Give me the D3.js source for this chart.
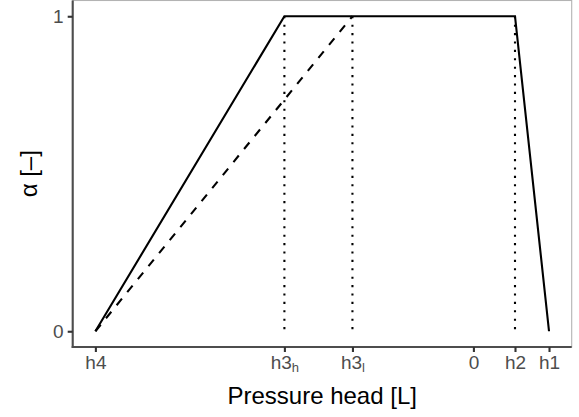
<!DOCTYPE html>
<html>
<head>
<meta charset="utf-8">
<script src="https://cdn.jsdelivr.net/npm/d3@7"></script>
<style>
  body { margin: 0; background: #fff; }
  svg { font-family: "Liberation Sans", Arial, sans-serif; }
</style>
</head>
<body>
<div id="chart"></div>
<script>
// x positions of the Feddes points (arbitrary units)
var tickValues = [-10, -5, -3.2, 0, 1.1, 2];
var tickLabels = [["h4", ""], ["h3", "h"], ["h3", "l"], ["0", ""], ["h2", ""], ["h1", ""]];
var solidX = [-10, -5, 1.1, 2];
var solidY = [0, 1, 1, 0];
var dashedX = [-10, -3.2];
var dashedY = [0, 1];
var dottedX = [-5, -3.2, 1.1];
var yTicks = [0, 1];

const dim = { width: 579, height: 417, mLeft: 72.7, mRight: 7.3, mTop: 0.5, mBottom: 70 };
var pw = dim.width - dim.mLeft - dim.mRight;
var ph = dim.height - dim.mTop - dim.mBottom;

var svg = d3.select("#chart").append("svg")
  .attr("width", dim.width).attr("height", dim.height);
var g = svg.append("g")
  .attr("transform", "translate(" + dim.mLeft + "," + dim.mTop + ")");

var x = d3.scaleLinear().domain([-10.6, 2.6]).range([0, pw]);
var y = d3.scaleLinear().domain([-0.05, 1.05]).range([ph, 0]);

// light panel border (top / right)
g.append("rect")
  .attr("x", 0).attr("y", 0).attr("width", pw).attr("height", ph)
  .attr("fill", "none").attr("stroke", "#b3b3b3").attr("stroke-width", 1.1);

// data lines
var line = d3.line().x(function (d) { return x(d[0]); }).y(function (d) { return y(d[1]); });
g.append("path")
  .datum(solidX.map(function (v, i) { return [v, solidY[i]]; }))
  .attr("d", line).attr("fill", "none").attr("stroke", "#000").attr("stroke-width", 2.1);
g.append("path")
  .datum(dashedX.map(function (v, i) { return [v, dashedY[i]]; }))
  .attr("d", line).attr("fill", "none").attr("stroke", "#000").attr("stroke-width", 2.1)
  .attr("stroke-dasharray", "8.4,8.4");
g.selectAll(".dot-line").data(dottedX).enter().append("path")
  .attr("class", "dot-line")
  .attr("d", function (d) { return line([[d, 1], [d, 0]]); })
  .attr("fill", "none").attr("stroke", "#000").attr("stroke-width", 2.1)
  .attr("stroke-dasharray", "2.1,6.3");

// axes
var xAxis = g.append("g")
  .attr("transform", "translate(0," + ph + ")")
  .call(d3.axisBottom(x).tickValues(tickValues).tickSize(5).tickPadding(4).tickFormat(""));
var yAxis = g.append("g")
  .call(d3.axisLeft(y).tickValues(yTicks).tickSize(5).tickPadding(4).tickFormat(d3.format("d")));
[xAxis, yAxis].forEach(function (a) {
  a.select(".domain").attr("stroke", "#4d4d4d").attr("stroke-width", 2.1)
    .attr("d", a === xAxis ? "M-1,0H" + pw : "M0,0V" + (ph + 1));
  a.selectAll(".tick line").attr("stroke", "#333").attr("stroke-width", 2.1);
  a.selectAll(".tick text").attr("fill", "#4d4d4d").style("font-size", "19px").attr("font-family", null);
});
yAxis.selectAll(".tick text").attr("dy", "0.35em");

// x tick labels with subscripts
xAxis.selectAll(".tick").each(function (d, i) {
  var t = d3.select(this).select("text").attr("y", 8.5).attr("dy", "0.71em");
  t.text(null);
  t.append("tspan").text(tickLabels[i][0]);
  if (tickLabels[i][1]) {
    t.append("tspan").text(tickLabels[i][1])
      .attr("font-size", "13px").attr("baseline-shift", "-25%");
  }
});

// axis titles
svg.append("text")
  .attr("x", dim.mLeft + pw / 2).attr("y", 403.5)
  .attr("text-anchor", "middle").attr("fill", "#000")
  .style("font-size", "24px").text("Pressure head [L]");
svg.append("text")
  .attr("transform", "translate(36.5," + (dim.mTop + ph / 2) + ") rotate(-90)")
  .attr("text-anchor", "middle").attr("fill", "#000")
  .style("font-size", "24px").text("α [–]");
</script>
</body>
</html>
